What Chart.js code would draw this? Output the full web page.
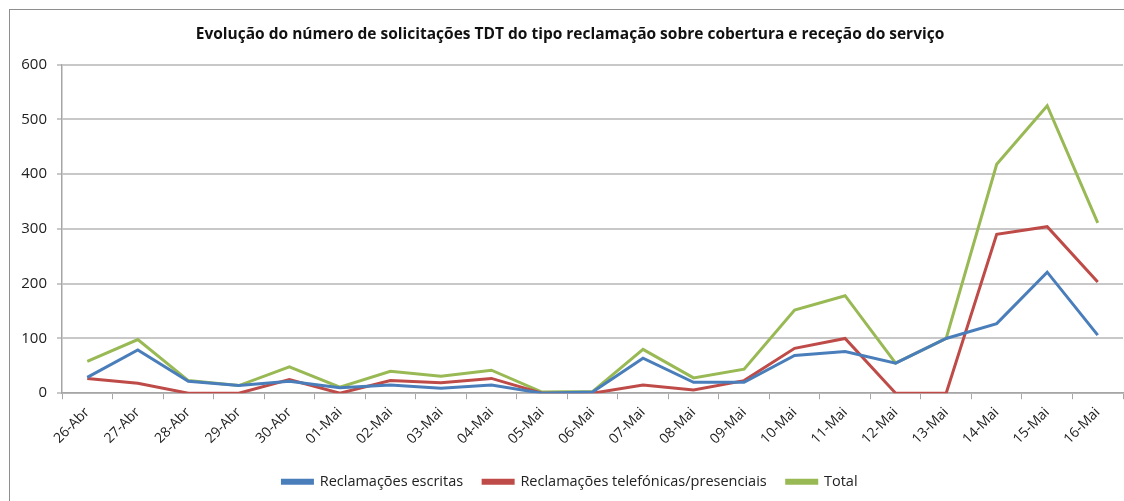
<!DOCTYPE html>
<html lang="pt">
<head>
  <meta charset="UTF-8" />
  <title>Reclamações TDT</title>
  <script src="https://cdn.jsdelivr.net/npm/chart.js"></script>
  <style>
    html, body { margin: 0; padding: 0; background: #fff; overflow: hidden; }
    #frame {
      position: absolute;
      left: 9px;
      top: 9px;
      width: 1200px;
      height: 600px;
      border: 1px solid #8e8e8e;
    }
    #chart { position: absolute; left: 0; top: 0; }
  </style>
</head>
<body>
  <div id="frame"></div>
  <!-- o gráfico original é mais largo do que a imagem; a parte direita fica cortada -->
  <canvas id="chart" width="1140" height="501"></canvas>

  <script>
    // dias (eixo x)
    const dias = ['26-Abr', '27-Abr', '28-Abr', '29-Abr', '30-Abr', '01-Mai', '02-Mai', '03-Mai',
      '04-Mai', '05-Mai', '06-Mai', '07-Mai', '08-Mai', '09-Mai', '10-Mai', '11-Mai', '12-Mai',
      '13-Mai', '14-Mai', '15-Mai', '16-Mai'];

    // valores
    const escritas = [29, 79, 22, 14, 22, 10, 15, 9, 15, 0, 2, 64, 20, 20, 69, 76, 55, 100, 127, 221, 106];
    const telefonicas = [27, 18, 0, 0, 25, 0, 23, 19, 27, 0, 0, 15, 6, 23, 82, 100, 0, 0, 290, 304, 203];
    const total = [58, 98, 23, 14, 48, 11, 40, 31, 42, 2, 3, 80, 28, 44, 152, 178, 55, 100, 418, 525, 311];

    const yTicks = [0, 100, 200, 300, 400, 500, 600];

    const fonte = "'Open Sans', 'Noto Sans', sans-serif";
    const cinza = '#c8c8c8';

    function serie(label, data, cor) {
      return {
        label: label,
        data: data,
        borderColor: cor,
        backgroundColor: cor,
        borderWidth: 3,
        pointRadius: 0,
        pointHoverRadius: 0,
        tension: 0,
        fill: false
      };
    }

    new Chart(document.getElementById('chart'), {
      type: 'line',
      data: {
        labels: dias,
        datasets: [
          serie('Reclamações escritas', escritas, '#4a7ebb'),
          serie('Reclamações telefónicas/presenciais', telefonicas, '#be4b48'),
          serie('Total', total, '#98b954')
        ]
      },
      options: {
        responsive: false,
        animation: false,
        layout: { padding: { top: 25, left: 0, right: 0, bottom: 2 } },
        plugins: {
          title: {
            display: true,
            text: 'Evolução do número de solicitações TDT do tipo reclamação sobre cobertura e receção do serviço',
            color: '#111',
            font: { family: fonte, size: 15.5, weight: 'bold' },
            padding: { top: 0, bottom: 21 }
          },
          legend: {
            position: 'bottom',
            labels: {
              color: '#222',
              font: { family: fonte, size: 14.5 },
              boxWidth: 30,
              boxHeight: 3,
              padding: 20
            }
          },
          tooltip: { enabled: false }
        },
        scales: {
          x: {
            offset: true,
            afterFit: (s) => { s.height += 2; },
            grid: {
              offset: true,
              drawOnChartArea: false,
              drawTicks: true,
              tickLength: 6,
              color: '#a6a6a6'
            },
            border: { color: '#a6a6a6', width: 1.5 },
            ticks: {
              color: '#222',
              font: { family: fonte, size: 14 },
              minRotation: 45,
              maxRotation: 45,
              autoSkip: false,
              padding: 5
            }
          },
          y: {
            min: 0,
            max: 600,
            afterFit: (s) => { s.width = 62; },
            afterBuildTicks: (s) => { s.ticks = yTicks.map(v => ({ value: v })); },
            grid: {
              color: cinza,
              lineWidth: 2,
              tickLength: 5,
              drawTicks: true
            },
            border: { color: '#a6a6a6', width: 1.5 },
            ticks: {
              color: '#222',
              font: { family: fonte, size: 15 },
              padding: 10
            }
          },
          // eixo vazio à direita: só reserva o espaço que fica fora da imagem
          margem: {
            position: 'right',
            display: true,
            afterFit: (s) => { s.width = 17; },
            grid: { display: false },
            border: { display: false },
            ticks: { display: false }
          }
        }
      }
    });
  </script>
</body>
</html>
